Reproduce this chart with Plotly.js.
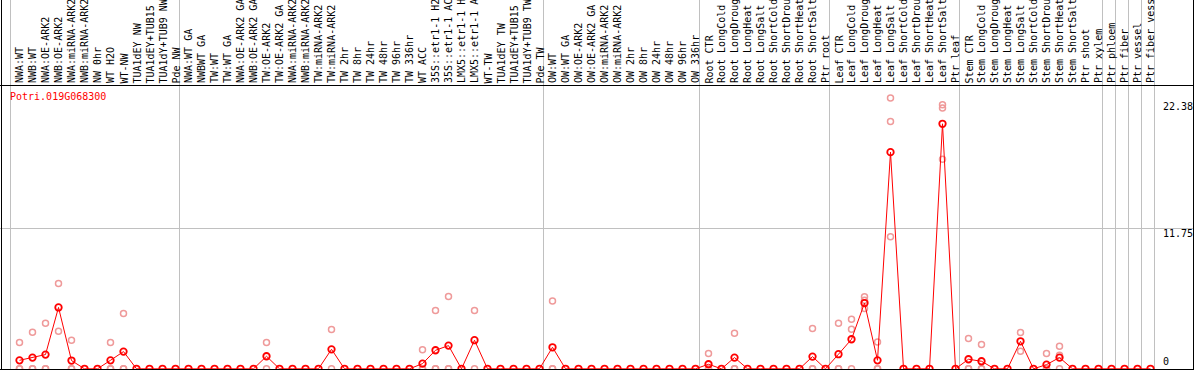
<!DOCTYPE html>
<html><head><meta charset="utf-8">
<script src="https://cdn.plot.ly/plotly-3.0.1.min.js"></script>
<style>html,body{margin:0;padding:0;background:#fff;overflow:hidden}#chart{width:1194px;height:370px}</style>
</head><body><div id="chart"></div>
<script>
// ---------------- data ----------------
const geneId = 'Potri.019G068300';

const sampleLabels = [
  'NWA:WT','NWB:WT','NWA:OE-ARK2','NWB:OE-ARK2','NWA:miRNA-ARK2','NWB:miRNA-ARK2','NW 0hr','WT H2O','WT-NW',
  'TUA1dEY NW','TUA1dEY+TUB15 NW','TUA1dY+TUB9 NW','Pde NW',
  'NWA:WT GA','NWBWT GA','TW:WT','TW:WT GA','NWA:OE-ARK2 GA','NWB:OE-ARK2 GA','TW:OE-ARK2','TW:OE-ARK2 GA',
  'NWA:miRNA-ARK2 GA','NWB:miRNA-ARK2 GA','TW:miRNA-ARK2','TW:miRNA-ARK2 GA',
  'TW 2hr','TW 8hr','TW 24hr','TW 48hr','TW 96hr','TW 336hr','WT ACC',
  '35S::etr1-1 H2O','35S::etr1-1 ACC','LMX5::etr1-1 H2O','LMX5::etr1-1 ACC',
  'WT-TW','TUA1dEY TW','TUA1dEY+TUB15 TW','TUA1dY+TUB9 TW','Pde TW',
  'OW:WT','OW:WT GA','OW:OE-ARK2','OW:OE-ARK2 GA','OW:miRNA-ARK2','OW:miRNA-ARK2 GA',
  'OW 2hr','OW 8hr','OW 24hr','OW 48hr','OW 96hr','OW 336hr',
  'Root CTR','Root LongCold','Root LongDrought','Root LongHeat','Root LongSalt',
  'Root ShortCold','Root ShortDrought','Root ShortHeat','Root ShortSalt','Ptr root',
  'Leaf CTR','Leaf LongCold','Leaf LongDrought','Leaf LongHeat','Leaf LongSalt',
  'Leaf ShortCold','Leaf ShortDrought','Leaf ShortHeat','Leaf ShortSalt','Ptr leaf',
  'Stem CTR','Stem LongCold','Stem LongDrought','Stem LongHeat','Stem LongSalt',
  'Stem ShortCold','Stem ShortDrought','Stem ShortHeat','Stem ShortSalt','Ptr shoot','Ptr xylem',
  'Ptr phloem','Ptr fiber','Ptr vessel','Ptr fiber vessel'
];

const meanValues = [
  0.71, 0.94, 1.19, 5.13, 0.69, 0, 0, 0.71, 1.44, 0,
  0, 0, 0, 0, 0, 0, 0, 0, 0, 1.05,
  0, 0, 0, 0, 1.63, 0, 0, 0, 0, 0,
  0, 0.43, 1.55, 1.94, 0, 2.39, 0, 0, 0, 0,
  0, 1.80, 0, 0, 0, 0, 0, 0, 0, 0,
  0, 0, 0, 0.38, 0, 0.94, 0, 0, 0, 0,
  0, 1.02, 0, 1.22, 2.47, 5.50, 0.71, 18.12, 0, 0,
  0, 20.49, 0, 0.80, 0.63, 0, 0, 2.30, 0, 0.35,
  0.94, 0, 0, 0, 0, 0, 0, 0
];

const replicateValues = [
  [2.2,0,0],[3.06,0,0],[3.81,0,0],[7.14,3.14],[2.39,0,0],[],[],[2.2,0,0],[4.63,0,0],[],
  [],[],[],[],[],[],[],[],[],[2.2,0],
  [],[],[],[],[3.28,0],[],[],[],[],[],
  [],[1.6,0,0],[4.88,0,0],[6.05,0,0],[],[4.88,0],[],[],[],[],
  [],[5.66,0,0],[],[],[],[],[],[],[],[],
  [],[],[],[1.27,0,0],[],[2.98,0,0],[],[],[],[],
  [],[3.37,0,0],[],[3.81,0,0],[4.15,3.31,0],[6.02,5.74,5.05],[2.25,0,0],[22.65,20.69,11.05],[],[],
  [],[22.09,21.81,17.53],[],[2.53,0,0],[2.03,0,0],[],[],[3.03,1.47],[],[1.27,0,0],
  [1.89,1.13,0],[],[],[],[],[],[],[]
];

const groupStarts = [0, 13, 41, 53, 63, 73, 84, 85, 86, 87, 88];
const yTickValues = [0, 11.75, 22.38];
const yTickLabels = ['0', '11.75', '22.38'];

// ---------------- geometry / style ----------------
const W = 1194, H = 370;
const X0 = 19.5, STEP = 13;           // pixel of first sample, pixels per sample
const HEADER = 85.5;                   // header bottom line (px from top)
const ZERO_PX = 368.8, PX_PER_UNIT = 11.957;
const FONT = {family: 'DejaVu Sans Mono, Liberation Mono, monospace', size: 10, color: '#000'};
const RED = '#ff0000', PINK = '#ef9a9a', GRID = '#c0c0c0';

const xIdx = sampleLabels.map((_, i) => i);
const xr = [-X0 / STEP, (W - X0) / STEP];
const plotH = H - HEADER;
const yr0 = -(H - ZERO_PX) / PX_PER_UNIT;
const yr = [yr0, yr0 + plotH / PX_PER_UNIT];
const px2paperX = p => p / W;
const px2paperY = p => 1 - p / H;

const repX = [], repY = [];
replicateValues.forEach((reps, i) => reps.forEach(v => { repX.push(i); repY.push(v); }));

const traces = [
  {x: repX, y: repY, type: 'scatter', mode: 'markers', hoverinfo: 'skip',
   marker: {symbol: 'circle-open', size: 6, color: PINK, line: {width: 1.5, color: PINK}}},
  {x: xIdx, y: meanValues, type: 'scatter', mode: 'lines+markers',
   line: {color: RED, width: 1},
   marker: {symbol: 'circle-open', size: 6.5, color: RED, line: {width: 1.8, color: RED}}}
];

const annotations = [];
sampleLabels.forEach((t, i) => annotations.push({
  x: i, xref: 'x', y: px2paperY(84.5), yref: 'paper', xanchor: 'center', yanchor: 'bottom',
  text: t, textangle: -90, showarrow: false, font: FONT, borderpad: 0
}));
annotations.push({x: px2paperX(8), xref: 'paper', y: px2paperY(96.5), yref: 'paper',
  xanchor: 'left', yanchor: 'middle', text: geneId, showarrow: false,
  font: Object.assign({}, FONT, {color: RED})});
const yMax = Math.max(...yTickValues);
yTickValues.forEach((v, k) => annotations.push({
  x: px2paperX(1162), xref: 'paper', y: v, yref: 'y', xanchor: 'left',
  yanchor: v === 0 ? 'bottom' : 'top', yshift: 1,
  text: yTickLabels[k], showarrow: false, font: FONT, borderpad: 0
}));

const shapes = [];
groupStarts.forEach(s => shapes.push({type: 'line', xref: 'x', yref: 'paper',
  x0: s - 9 / STEP, x1: s - 9 / STEP, y0: 0, y1: 1, layer: 'below', line: {color: GRID, width: 1}}));
const border = {color: '#000', width: 1};
shapes.push({type: 'line', xref: 'paper', yref: 'paper', x0: px2paperX(1.5), x1: px2paperX(1.5), y0: 0, y1: 1, line: border});
shapes.push({type: 'line', xref: 'paper', yref: 'paper', x0: px2paperX(1193.5), x1: px2paperX(1193.5), y0: 0, y1: 1, line: border});
shapes.push({type: 'line', xref: 'paper', yref: 'paper', x0: 0, x1: 1, y0: px2paperY(369.5), y1: px2paperY(369.5), line: border});
shapes.push({type: 'line', xref: 'paper', yref: 'paper', x0: 0, x1: 1, y0: px2paperY(HEADER), y1: px2paperY(HEADER), line: border});

const layout = {
  width: W, height: H, margin: {l: 0, r: 0, t: 0, b: 0, pad: 0},
  paper_bgcolor: '#fff', plot_bgcolor: 'rgba(0,0,0,0)', showlegend: false,
  xaxis: {range: xr, showgrid: false, zeroline: false, showticklabels: false, ticks: '', fixedrange: true},
  yaxis: {range: yr, domain: [0, 1 - HEADER / H], zeroline: false, showticklabels: false, ticks: '',
          tickmode: 'array', tickvals: yTickValues.filter(v => v > 0 && v < yMax),
          showgrid: true, gridcolor: GRID, gridwidth: 1, fixedrange: true},
  annotations: annotations, shapes: shapes, hovermode: false
};

Plotly.newPlot('chart', traces, layout, {staticPlot: true, displayModeBar: false});
</script></body></html>
